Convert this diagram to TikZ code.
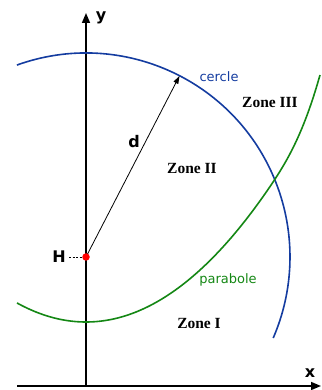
\documentclass[tikz,border=0pt]{standalone}
\usepackage{fontspec}
\setmainfont{Liberation Serif}
\newfontfamily\lblfont{DejaVu Sans}
\usetikzlibrary{arrows.meta}
\definecolor{cblue}{RGB}{20,60,160}
\definecolor{cgreen}{RGB}{20,135,20}
\begin{document}
\begin{tikzpicture}[x=1pt,y=1pt,
  axis/.style={line width=1.6pt,-{Triangle[length=10pt,width=8pt]}},
  zone/.style={font=\fontsize{15.5}{17}\selectfont\bfseries},
  axlbl/.style={font=\lblfont\fontsize{16}{18}\selectfont\bfseries},
  clbl/.style={font=\lblfont\fontsize{13}{15}\selectfont},
  curve/.style={line width=1.6pt}]
\useasboundingbox (0,0) rectangle (321,390);
% axes
\coordinate (xs) at (17,4);
\coordinate (xe) at (321,4);
\coordinate (ys) at (86,4);
\coordinate (ye) at (86,377);
\draw[axis] (xs) -- (xe);
\draw[axis] (ys) -- (ye);
\node[axlbl] (ylab) at (101,372) {y};
\node[axlbl] (xlab) at (310,17) {x};
% circle arc
\coordinate (Hc) at (86,133);
\draw[curve,cblue] ([shift={(109.8:204)}]Hc) arc[start angle=109.8,end angle=-23.4,radius=204];
% parabola
\draw[curve,cgreen] plot[domain=17:320,samples=120,smooth]
  (\x,{68+40*((\x-86)/100)*((\x-86)/100)+0.224*pow(max(0,(\x-270)/10),3)});
% radius
\coordinate (tip) at ([shift={(62.7:204)}]Hc);
\draw[line width=0.8pt,-{Triangle[length=8pt,width=5pt]}] (Hc) -- (tip);
\node[font=\lblfont\fontsize{16}{18}\selectfont\bfseries] (dlab) at (134,248) {d};
% H point
\node[circle,fill=red,inner sep=0pt,minimum size=7.5pt] (H) at (Hc) {};
\node[axlbl] (Hlab) at (59,133) {H};
\draw[line width=0.8pt,dash pattern=on 2pt off 1.5pt] (Hlab.east) -- (H.west);
% labels
\node[clbl,text=cblue] (cer) at (219,313) {cercle};
\node[clbl,text=cgreen] (par) at (228,110) {parabole};
\node[zone] (z3) at (270,287) {Zone III};
\node[zone] (z2) at (192,221) {Zone II};
\node[zone] (z1) at (199,66) {Zone I};
\end{tikzpicture}
\end{document}
